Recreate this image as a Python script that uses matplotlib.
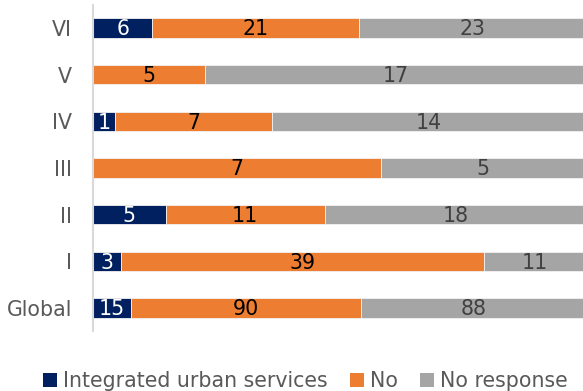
import matplotlib
matplotlib.use("Agg")
import matplotlib.pyplot as plt
import numpy as np

categories = ["Global", "I", "II", "III", "IV", "V", "VI"]
integrated = [15, 3, 5, 0, 1, 0, 6]
no = [90, 39, 11, 7, 7, 5, 21]
no_response = [88, 11, 18, 5, 14, 17, 23]
series_names = ["Integrated urban services", "No", "No response"]

colors = ["#002060", "#ED7D31", "#A5A5A5"]
label_colors = ["white", "black", "#404040"]

plt.rcParams['font.family'] = ['DejaVu Sans']
FS = 14.8

fig = plt.figure(figsize=(5.83, 3.91), dpi=100)
ax = fig.add_axes([93/583, 1-331.3/391, (586-93)/583, (331.3-4.7)/391])

data = np.array([integrated, no, no_response], dtype=float)
totals = data.sum(axis=0)
shares = data / totals
y = np.arange(len(categories))
left = np.zeros(len(categories))
handles = []
for i in range(3):
    bars = ax.barh(y, shares[i], left=left, height=0.41, color=colors[i],
                   edgecolor="#f2f2f2", linewidth=0.6, label=series_names[i])
    handles.append(bars)
    for j in range(len(categories)):
        if data[i, j] > 0:
            ax.text(left[j] + shares[i, j] / 2, y[j] - 0.03, f"{int(data[i, j])}",
                    ha="center", va="center", fontsize=FS, color=label_colors[i])
    left += shares[i]

ax.set_xlim(0, 1)
ax.set_ylim(-0.5, len(categories) - 0.5)
ax.set_yticks(y)
ax.set_yticklabels(categories, fontsize=FS, color="#595959")
ax.tick_params(axis="y", length=0, pad=15)
ax.set_xticks([])
for s in ["top", "right", "bottom"]:
    ax.spines[s].set_visible(False)
ax.spines["left"].set_color("#d9d9d9")
ax.spines["left"].set_linewidth(1.5)

leg = fig.legend(handles=handles, labels=series_names, loc="center",
                 bbox_to_anchor=(305.5/583, 1-381/391), ncol=3, frameon=False,
                 fontsize=FS, handlelength=0.65, handleheight=0.65,
                 handletextpad=0.3, columnspacing=1.1, borderaxespad=0)
for t in leg.get_texts():
    t.set_color("#595959")
for h in leg.legend_handles:
    h.set_edgecolor("none")

fig.savefig("out.png", dpi=100)
